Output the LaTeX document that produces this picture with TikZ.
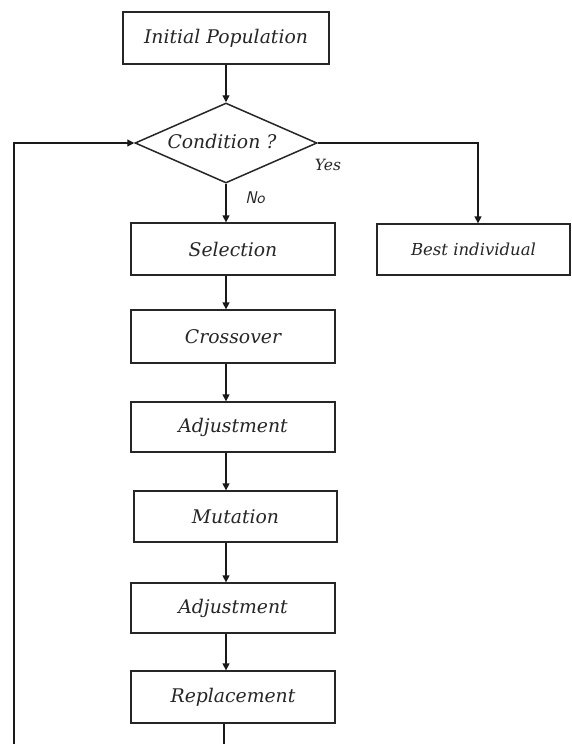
\documentclass[tikz,border=0pt]{standalone}
\usepackage{fontspec}
\setmainfont{DejaVu Serif}
\usetikzlibrary{shapes.geometric,arrows.meta,calc}
\begin{document}
\begin{tikzpicture}[x=1pt,y=-1pt,
  line width=1.3pt,
  every node/.style={text=black!85, font=\itshape\fontsize{18.8}{20}\selectfont},
  box/.style={draw=black!85, rectangle, inner sep=0pt},
  arr/.style={draw=black!90, -{Triangle[length=7pt,width=7pt]}},
  ln/.style={draw=black!90}]
\useasboundingbox (0,0) rectangle (571,744);
\fill[white] (0,0) rectangle (571,744);
\coordinate (axis) at (226,0);
\node[box, minimum width=206pt, minimum height=52pt] (init) at (226,38) {Initial Population};
\node[draw=black!85, line width=1.5pt, diamond, aspect=2.275, minimum width=182pt, minimum height=80pt, inner sep=0pt] (cond) at (226,143) {};
\node (condtext) at (222,141) {Condition ?};
\node[box, minimum width=204pt, minimum height=52pt] (sel) at (233,249) {Selection};
\node[box, minimum width=193pt, minimum height=51pt, font=\itshape\fontsize{16.5}{18}\selectfont] (best) at (473.5,249.5) {Best individual};
\node[box, minimum width=204pt, minimum height=53pt] (cross) at (233,336.5) {Crossover};
\node[box, minimum width=204pt, minimum height=50pt] (adj1) at (233,427) {Adjustment};
\node[box, minimum width=203pt, minimum height=51pt] (mut) at (235.5,516.5) {Mutation};
\node[box, minimum width=204pt, minimum height=50pt] (adj2) at (233,608) {Adjustment};
\node[box, minimum width=204pt, minimum height=52pt] (rep) at (233,697) {Replacement};
\node[font=\itshape\fontsize{15.5}{17}\selectfont] (yes) at (328,165) {Yes};
\node[font=\itshape\sffamily\fontsize{17}{19}\selectfont] (no) at (255,198) {No};
\coordinate (loopbot) at (14,744);
\coordinate (repbot) at (224,744);
\coordinate (bestin) at ($(best.north)+(4.5,0)$);
\draw[arr] (init.south -| axis) -- (cond.north);
\draw[arr] (cond.south) -- (sel.north -| axis);
\draw[arr] (cond.east) -| (bestin);
\draw[arr] (sel.south -| axis) -- (cross.north -| axis);
\draw[arr] (cross.south -| axis) -- (adj1.north -| axis);
\draw[arr] (adj1.south -| axis) -- (mut.north -| axis);
\draw[arr] (mut.south -| axis) -- (adj2.north -| axis);
\draw[arr] (adj2.south -| axis) -- (rep.north -| axis);
\draw[ln] (rep.south -| repbot) -- (repbot);
\draw[arr] (loopbot) |- (cond.west);
\end{tikzpicture}
\end{document}
